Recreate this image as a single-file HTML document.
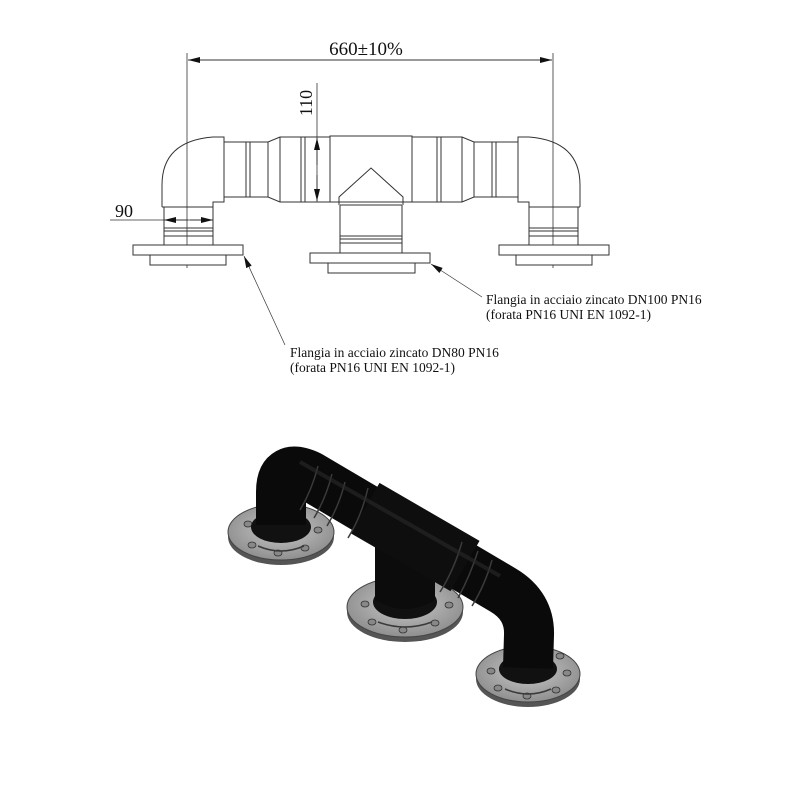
<!DOCTYPE html>
<html><head><meta charset="utf-8"><style>
html,body{margin:0;padding:0;background:#fff;}
svg{display:block;}
text{font-family:"Liberation Serif",serif;fill:#111;}
</style></head><body>
<svg width="800" height="800" viewBox="0 0 800 800" xmlns="http://www.w3.org/2000/svg">
<defs>
<marker id="a" markerWidth="12" markerHeight="6" refX="12" refY="3" orient="auto" markerUnits="userSpaceOnUse"><path d="M0,0 L12,3 L0,6 Z" fill="#111"/></marker>
<radialGradient id="fl" cx="50%" cy="45%" r="60%"><stop offset="0" stop-color="#c8c8c8"/><stop offset="1" stop-color="#8a8a8a"/></radialGradient>
</defs>
<g fill="none" stroke="#333" stroke-width="1">
<line x1="187" y1="53" x2="187" y2="268" stroke-width="0.8"/>
<line x1="553" y1="53" x2="553" y2="268" stroke-width="0.8"/>
<line x1="366" y1="60" x2="188" y2="60" marker-end="url(#a)"/>
<line x1="366" y1="60" x2="552" y2="60" marker-end="url(#a)"/>
<path d="M162,207 L162,185 Q162,141 213,137 L224,137 L224,202 L213,202 L213,207"/>
<line x1="162" y1="207" x2="213" y2="207"/>
<path d="M164,207 L164,245 M213,207 L213,245"/>
<line x1="164" y1="228" x2="213" y2="228"/><line x1="164" y1="231" x2="213" y2="231"/><line x1="164" y1="236" x2="213" y2="236"/>
<rect x="133" y="245" width="110" height="10" fill="#fff"/>
<rect x="150" y="255" width="76" height="10" fill="#fff"/>
<path d="M580,207 L580,185 Q580,141 529,137 L518,137 L518,202 L529,202 L529,207"/>
<line x1="580" y1="207" x2="529" y2="207"/>
<path d="M578,207 L578,245 M529,207 L529,245"/>
<line x1="529" y1="228" x2="578" y2="228"/><line x1="529" y1="231" x2="578" y2="231"/><line x1="529" y1="236" x2="578" y2="236"/>
<rect x="499" y="245" width="110" height="10" fill="#fff"/>
<rect x="516" y="255" width="76" height="10" fill="#fff"/>
<path d="M224,142 L268,142 L280,137 L330,137 M224,197 L268,197 L280,202 L330,202"/>
<line x1="246" y1="142" x2="246" y2="197"/><line x1="250" y1="142" x2="250" y2="197"/>
<line x1="268" y1="142" x2="268" y2="197"/><line x1="280" y1="137" x2="280" y2="202"/>
<line x1="301" y1="137" x2="301" y2="202"/><line x1="305" y1="137" x2="305" y2="202"/>
<path d="M518,142 L474,142 L462,137 L412,137 M518,197 L474,197 L462,202 L412,202"/>
<line x1="496" y1="142" x2="496" y2="197"/><line x1="492" y1="142" x2="492" y2="197"/>
<line x1="474" y1="142" x2="474" y2="197"/><line x1="462" y1="137" x2="462" y2="202"/>
<line x1="441" y1="137" x2="441" y2="202"/><line x1="437" y1="137" x2="437" y2="202"/>
<rect x="330" y="136" width="82" height="66" fill="#fff"/>
<path d="M339,202 L339,197 L371,168 L403,197 L403,202"/>
<path d="M339,202 L339,205 M403,202 L403,205"/>
<path d="M340,205 L402,205 M340,205 L340,253 M402,205 L402,253"/>
<line x1="340" y1="236" x2="402" y2="236"/><line x1="340" y1="239" x2="402" y2="239"/><line x1="340" y1="243" x2="402" y2="243"/>
<rect x="310" y="253" width="120" height="10" fill="#fff"/>
<rect x="328" y="263" width="87" height="10" fill="#fff"/>
<line x1="317" y1="83" x2="317" y2="202" stroke-width="0.8"/>
<line x1="317" y1="165" x2="317" y2="138" marker-end="url(#a)"/>
<line x1="317" y1="175" x2="317" y2="201" marker-end="url(#a)"/>
<line x1="110" y1="220" x2="213" y2="220" stroke-width="0.8"/>
<line x1="188" y1="220" x2="164" y2="220" marker-end="url(#a)"/>
<line x1="190" y1="220" x2="213" y2="220" marker-end="url(#a)"/>
<line x1="285" y1="345" x2="244" y2="256" stroke-width="0.7" marker-end="url(#a)"/>
<line x1="482" y1="297" x2="431" y2="264" stroke-width="0.7" marker-end="url(#a)"/>
</g>
<text x="366" y="55" font-size="19" text-anchor="middle">660±10%</text>
<text x="312" y="103" font-size="18" text-anchor="middle" transform="rotate(-90 312 103)">110</text>
<text x="115" y="217" font-size="18">90</text>
<text x="486" y="304" font-size="13.5">Flangia in acciaio zincato DN100 PN16</text>
<text x="486" y="319" font-size="13.5">(forata PN16 UNI EN 1092-1)</text>
<text x="290" y="357" font-size="13.5">Flangia in acciaio zincato DN80 PN16</text>
<text x="290" y="372" font-size="13.5">(forata PN16 UNI EN 1092-1)</text>

<g>
<ellipse cx="281" cy="537" rx="53" ry="28" fill="#555"/>
<ellipse cx="281" cy="532" rx="53" ry="28" fill="url(#fl)" stroke="#444" stroke-width="1"/>
<ellipse cx="405" cy="612" rx="58" ry="30" fill="#555"/>
<ellipse cx="405" cy="607" rx="58" ry="30" fill="url(#fl)" stroke="#444" stroke-width="1"/>
<ellipse cx="528" cy="679" rx="52" ry="28" fill="#555"/>
<ellipse cx="528" cy="674" rx="52" ry="28" fill="url(#fl)" stroke="#444" stroke-width="1"/>
<g fill="#888" stroke="#333" stroke-width="0.8">
<ellipse cx="248" cy="524" rx="4" ry="3"/><ellipse cx="262" cy="510" rx="4" ry="3"/><ellipse cx="252" cy="545" rx="4" ry="3"/><ellipse cx="278" cy="553" rx="4" ry="3"/><ellipse cx="305" cy="548" rx="4" ry="3"/><ellipse cx="318" cy="530" rx="4" ry="3"/>
<ellipse cx="365" cy="604" rx="4" ry="3"/><ellipse cx="372" cy="622" rx="4" ry="3"/><ellipse cx="403" cy="630" rx="4" ry="3"/><ellipse cx="435" cy="623" rx="4" ry="3"/><ellipse cx="449" cy="605" rx="4" ry="3"/><ellipse cx="380" cy="584" rx="4" ry="3"/>
<ellipse cx="491" cy="671" rx="4" ry="3"/><ellipse cx="498" cy="688" rx="4" ry="3"/><ellipse cx="527" cy="696" rx="4" ry="3"/><ellipse cx="556" cy="690" rx="4" ry="3"/><ellipse cx="567" cy="673" rx="4" ry="3"/><ellipse cx="560" cy="656" rx="4" ry="3"/>
</g>
<ellipse cx="281" cy="527" rx="30" ry="16" fill="#111"/>
<ellipse cx="405" cy="602" rx="32" ry="17" fill="#111"/>
<ellipse cx="528" cy="669" rx="29" ry="15" fill="#111"/>
<path d="M375,540 L375,600 Q405,618 435,600 L435,540 Z" fill="#0c0c0c"/>
<path d="M281,525 L281,492 Q281,462 310,476 L503,590 Q530,606 529,635 L528,668" stroke="#0a0a0a" stroke-width="50" fill="none"/>
<path d="M365,508 L465,566" stroke="#0e0e0e" stroke-width="58" stroke-linecap="butt" fill="none"/>
<g stroke="#3a3a3a" stroke-width="1.5" fill="none">
<path d="M318,466 Q312,490 300,510"/><path d="M332,474 Q326,498 314,518"/><path d="M345,482 Q339,506 327,526"/>
<path d="M368,488 Q362,515 348,538"/><path d="M462,542 Q454,570 440,592"/>
<path d="M478,551 Q470,576 458,598"/><path d="M492,560 Q485,585 472,606"/>
<path d="M258,546 Q281,556 304,546"/><path d="M378,622 Q405,632 432,622"/><path d="M505,689 Q528,699 551,689"/>
</g>
<path d="M300,462 L500,576" stroke="#2a2a2a" stroke-width="4" fill="none" opacity="0.6"/>
</g>
</svg>
</body></html>
